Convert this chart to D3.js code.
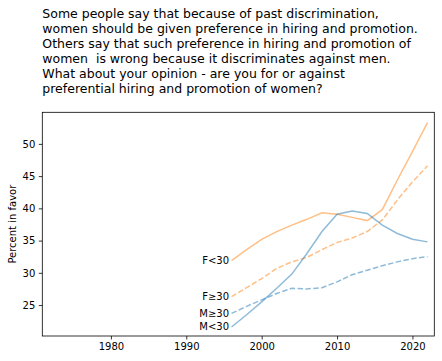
<!DOCTYPE html>
<html lang="en">
<head>
<meta charset="utf-8">
<title>Preferential hiring</title>
<script src="https://cdn.jsdelivr.net/npm/d3@7"></script>
<style>
  body { margin: 0; background: #fff; }
  svg text { font-family: "DejaVu Sans", sans-serif; fill: #000; }
</style>
</head>
<body>
<svg id="chart" width="442" height="361"></svg>
<script>
// survey years and smoothed percent in favor
var years = [1996, 1998, 2000, 2002, 2004, 2006, 2008, 2010, 2012, 2014, 2016, 2018, 2020, 2022];
var fUnder30 = [31.9, 33.6, 35.2, 36.4, 37.4, 38.3, 39.3, 39.1, 38.6, 38.1, 39.8, 44.4, 48.8, 53.3];
var fOver30  = [26.3, 27.7, 29.1, 30.7, 31.7, 32.4, 33.6, 34.7, 35.4, 36.4, 38.2, 41.3, 44.1, 46.6];
var mOver30  = [23.7, 24.8, 25.8, 26.8, 27.6, 27.5, 27.7, 28.6, 29.7, 30.4, 31.1, 31.7, 32.2, 32.5];
var mUnder30 = [21.6, 23.5, 25.5, 27.6, 29.8, 33.0, 36.4, 39.1, 39.6, 39.2, 37.4, 36.1, 35.2, 34.8];
var seriesNames = ["F<30", "F≥30", "M≥30", "M<30"];
var xTicks = [1980, 1990, 2000, 2010, 2020];
var yTicks = [25, 30, 35, 40, 45, 50];
var titleLines = [
    "Some people say that because of past discrimination,",
    "women should be given preference in hiring and promotion.",
    "Others say that such preference in hiring and promotion of",
    "women  is wrong because it discriminates against men.",
    "What about your opinion - are you for or against",
    "preferential hiring and promotion of women?"
];

var series = [
    {name: seriesNames[0], values: fUnder30, color: "#ff7f0e", dash: null},
    {name: seriesNames[1], values: fOver30, color: "#ff7f0e", dash: "5.5,2.4"},
    {name: seriesNames[2], values: mOver30, color: "#1f77b4", dash: "5.5,2.4"},
    {name: seriesNames[3], values: mUnder30, color: "#1f77b4", dash: null}
];

var svg = d3.select("#chart");
var plotLeft = 42.3, plotRight = 434.3, plotTop = 112.3, plotBottom = 336;

var x = d3.scaleLinear().domain([1970.9, 2022.9]).range([plotLeft, plotRight]);
var y = d3.scaleLinear().domain([20.2, 54.9]).range([plotBottom, plotTop]);

/** title block */
var title = svg.append("text")
    .attr("x", plotLeft)
    .attr("y", 18)
    .style("font-size", "12.5px");
title.selectAll("tspan")
    .data(titleLines)
    .enter().append("tspan")
    .attr("x", plotLeft)
    .attr("dy", function(_, i) { return i == 0 ? 0 : 15; })
    .style("white-space", "pre")
    .text(function(d) { return d; });

/** axes */
var xAxis = svg.append("g")
    .attr("transform", "translate(0," + plotBottom + ")")
    .call(d3.axisBottom(x).tickValues(xTicks).tickFormat(d3.format("d")).tickSizeInner(3.5).tickSizeOuter(0).tickPadding(3.5));
var yAxis = svg.append("g")
    .attr("transform", "translate(" + plotLeft + ",0)")
    .call(d3.axisLeft(y).tickValues(yTicks).tickSizeInner(3.5).tickSizeOuter(0).tickPadding(3.5));
[xAxis, yAxis].forEach(function(g) {
    g.select(".domain").remove();
    g.selectAll("line").attr("stroke", "#000").attr("stroke-width", 0.8);
    g.selectAll("text").style("font-size", "10px").style("font-family", "DejaVu Sans, sans-serif");
});

svg.append("rect")
    .attr("x", plotLeft).attr("y", plotTop)
    .attr("width", plotRight - plotLeft).attr("height", plotBottom - plotTop)
    .attr("fill", "none").attr("stroke", "#000").attr("stroke-width", 0.8);

svg.append("text")
    .attr("transform", "translate(12," + ((plotTop + plotBottom) / 2) + ") rotate(-90)")
    .attr("text-anchor", "middle")
    .attr("dominant-baseline", "central")
    .style("font-size", "10px")
    .text("Percent in favor");

/** lines */
var line = d3.line()
    .x(function(d, i) { return x(years[i]); })
    .y(function(d) { return y(d); });

svg.selectAll(".series")
    .data(series)
    .enter().append("path")
    .attr("class", "series")
    .attr("d", function(s) { return line(s.values); })
    .attr("fill", "none")
    .attr("stroke", function(s) { return s.color; })
    .attr("stroke-opacity", 0.5)
    .attr("stroke-width", 1.5)
    .attr("stroke-dasharray", function(s) { return s.dash; });

/** labels at the start of each line */
svg.selectAll(".lbl")
    .data(series)
    .enter().append("text")
    .attr("class", "lbl")
    .attr("x", x(years[0]) - 2.5)
    .attr("y", function(s) { return y(s.values[0]); })
    .attr("text-anchor", "end")
    .attr("dominant-baseline", "central")
    .style("font-size", "10px")
    .text(function(s) { return s.name; });
</script>
</body>
</html>
